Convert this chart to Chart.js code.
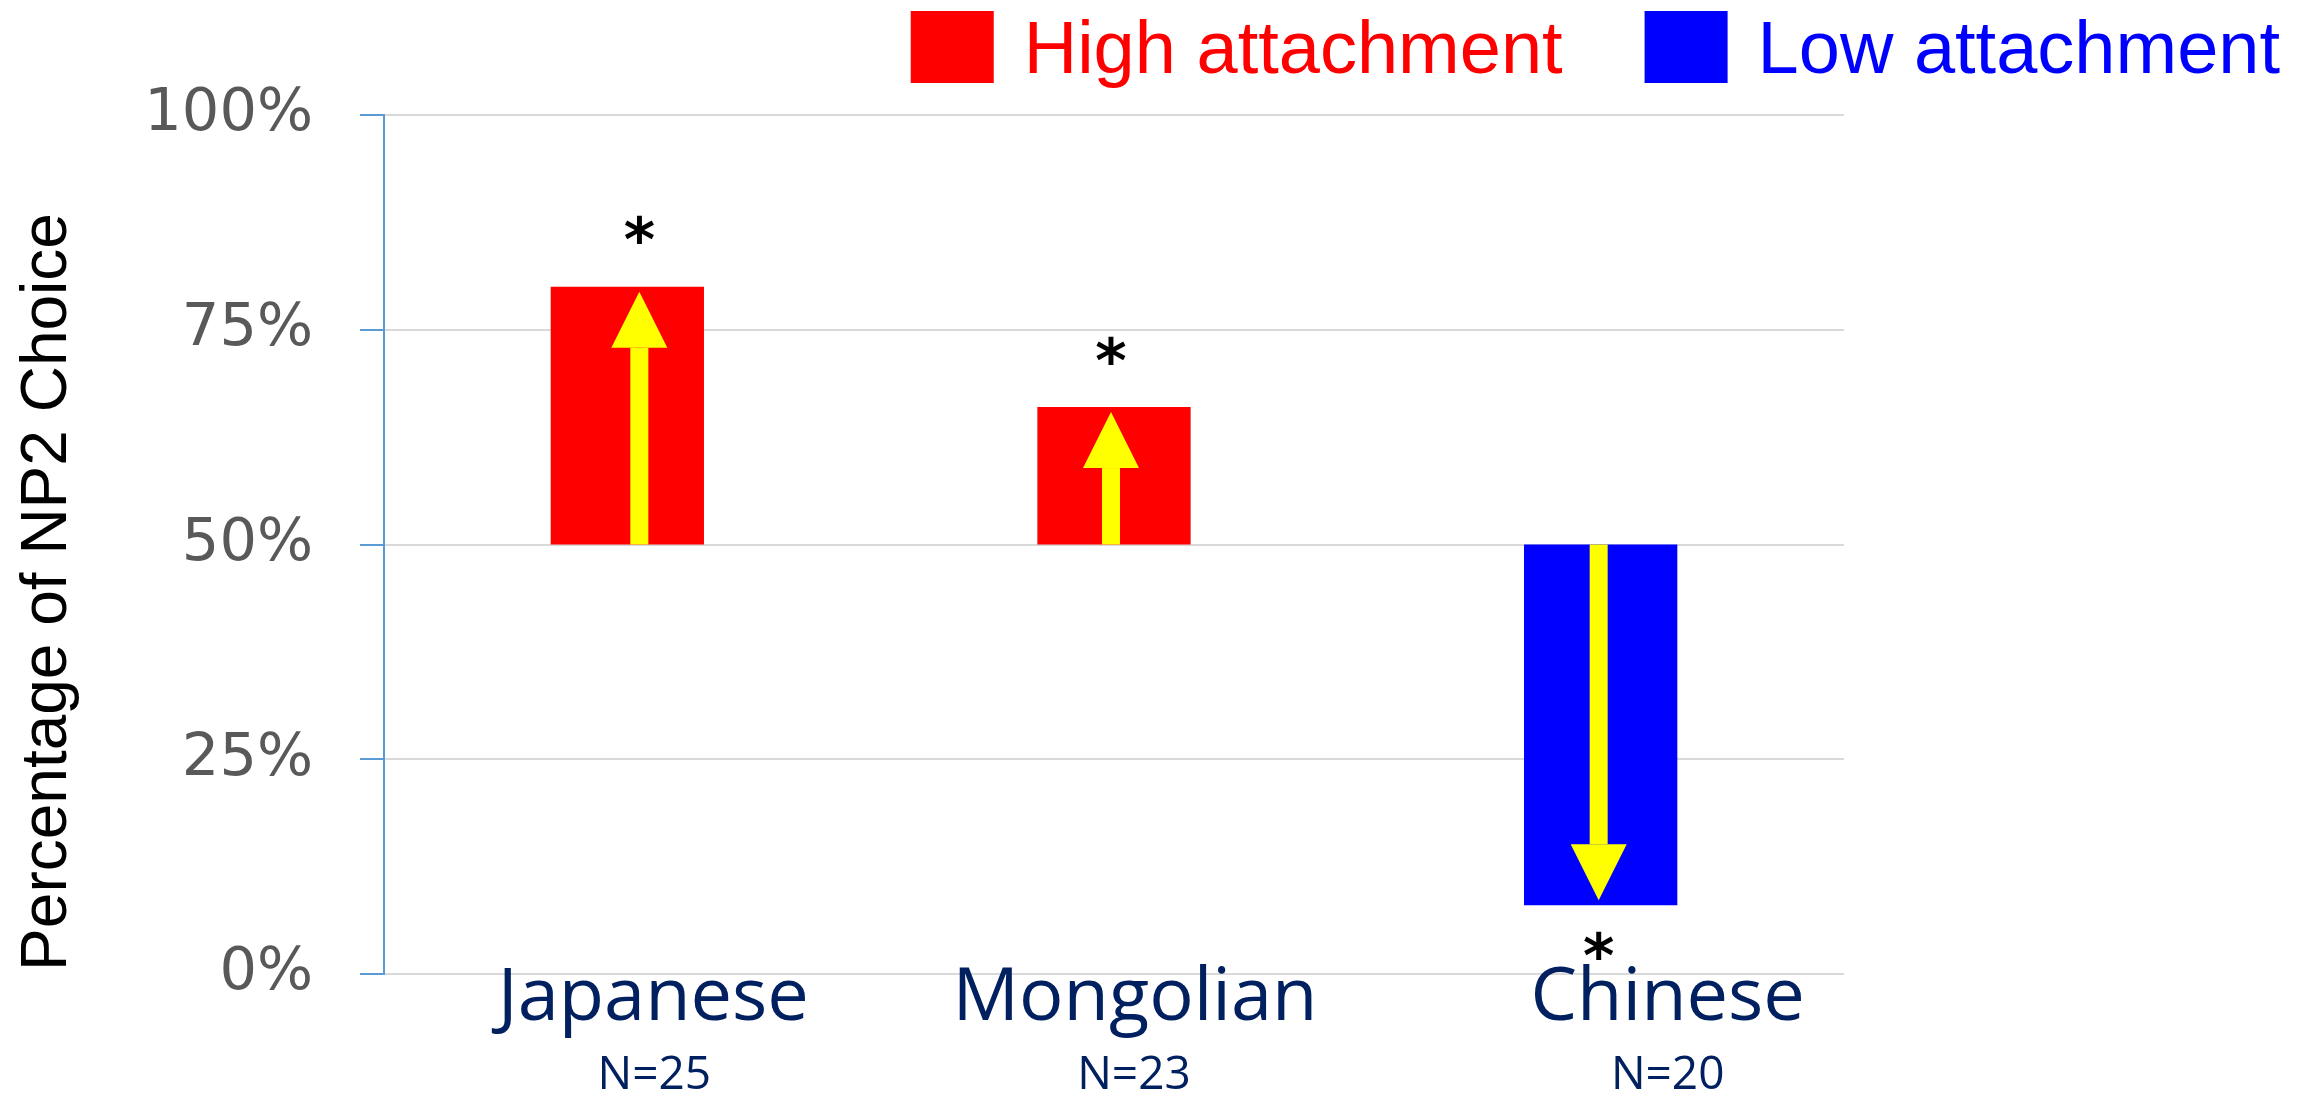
<!DOCTYPE html>
<html>
<head>
<meta charset="utf-8">
<title>Percentage of NP2 Choice</title>
<script src="https://cdn.jsdelivr.net/npm/chart.js@4/dist/chart.umd.min.js"></script>
<style>
  html, body { margin: 0; padding: 0; background: #ffffff; }
  #wrap { width: 2313px; height: 1096px; }
</style>
</head>
<body>
<div id="wrap"><canvas id="chart" width="2313" height="1096"></canvas></div>
<script>
// Language groups and their sample sizes
const categories = ['Japanese', 'Mongolian', 'Chinese'];
const sampleSizes = ['N=25', 'N=23', 'N=20'];

// Share of NP2 choices (%) — bars float from the 50% chance level
const chanceLevel = 50;
const highAttachment = [80, 66, null];
const lowAttachment = [null, null, 8];
const significant = [true, true, true];

const seriesNames = ['High attachment', 'Low attachment'];
const yTickValues = [0, 25, 50, 75, 100];
const yAxisTitle = 'Percentage of NP2 Choice';

const floating = vals => vals.map(v => (v == null ? null : [chanceLevel, v]));

const RED = '#ff0000';
const BLUE = '#0000ff';
const YELLOW = '#ffff00';
const NAVY = '#002060';

// Arrows, significance marks, category labels, title and legend
const decorations = {
  id: 'decorations',
  afterDatasetsDraw(chart) {
    const ctx = chart.ctx;
    const y = chart.scales.y;
    const arrowNudge = [12, -3, -2];
    ctx.save();
    chart.data.datasets.forEach((ds, di) => {
      const meta = chart.getDatasetMeta(di);
      ds.data.forEach((range, j) => {
        if (range == null) return;
        const bar = meta.data[j];
        const x = bar.x + arrowNudge[j];
        const y0 = y.getPixelForValue(range[0]);
        const y1 = y.getPixelForValue(range[1]);
        const dir = Math.sign(y1 - y0);
        const tip = y1 - dir * 5;
        const headLen = 56, headW = 56, shaftW = 18;
        const base = tip - dir * headLen;
        ctx.fillStyle = YELLOW;
        ctx.fillRect(x - shaftW / 2, Math.min(y0, base), shaftW, Math.abs(base - y0));
        ctx.beginPath();
        ctx.moveTo(x, tip);
        ctx.lineTo(x - headW / 2, base);
        ctx.lineTo(x + headW / 2, base);
        ctx.closePath();
        ctx.fill();

        if (significant[j]) {
          ctx.font = 'bold 60px "DejaVu Sans"';
          ctx.fillStyle = '#000000';
          ctx.textAlign = 'center';
          ctx.textBaseline = 'alphabetic';
          const m = ctx.measureText('*');
          const h = m.actualBoundingBoxAscent + m.actualBoundingBoxDescent;
          const cy = dir < 0 ? y1 - 57 : y1 + 40;
          ctx.fillText('*', x, cy + h / 2 - m.actualBoundingBoxDescent);
        }
      });
    });
    ctx.restore();
  },
  afterDraw(chart) {
    const ctx = chart.ctx;
    const x = chart.scales.x;
    ctx.save();

    // category names and sample sizes under each bar
    const nameNudge = [26, 21, 67];
    const nNudge = [27, 20, 67];
    ctx.fillStyle = NAVY;
    ctx.textAlign = 'center';
    ctx.textBaseline = 'alphabetic';
    categories.forEach((c, i) => {
      const cx = x.getPixelForValue(i);
      ctx.font = '74px "Open Sans"';
      ctx.fillText(c, cx + nameNudge[i], 1020);
      ctx.font = '46px "Open Sans"';
      ctx.fillText(sampleSizes[i], cx + nNudge[i], 1089);
    });

    // vertical axis title
    ctx.save();
    ctx.translate(66, 592);
    ctx.rotate(-Math.PI / 2);
    ctx.font = '64px "Liberation Sans"';
    ctx.fillStyle = '#000000';
    ctx.textAlign = 'center';
    ctx.fillText(yAxisTitle, 0, 0);
    ctx.restore();

    // legend, right-aligned at the top
    ctx.font = '74px "Liberation Sans"';
    ctx.textAlign = 'left';
    const boxW = 83, boxH = 72, gapText = 30, gapItem = 82;
    let right = 2280;
    const items = chart.data.datasets.map(ds => ({ text: ds.label, color: ds.backgroundColor }));
    for (let k = items.length - 1; k >= 0; k--) {
      const it = items[k];
      const tw = ctx.measureText(it.text).width;
      const tx = right - tw;
      const bx = tx - gapText - boxW;
      ctx.fillStyle = it.color;
      ctx.fillRect(bx, 11, boxW, boxH);
      ctx.fillText(it.text, tx, 73);
      right = bx - gapItem;
    }
    ctx.restore();
  }
};

new Chart(document.getElementById('chart'), {
  type: 'bar',
  data: {
    labels: categories,
    datasets: [
      { label: seriesNames[0], data: floating(highAttachment), backgroundColor: RED, grouped: false },
      { label: seriesNames[1], data: floating(lowAttachment), backgroundColor: BLUE, grouped: false }
    ]
  },
  options: {
    responsive: false,
    animation: false,
    events: [],
    layout: { padding: { left: 3, right: 469, top: 115, bottom: 122 } },
    datasets: { bar: { categoryPercentage: 1, barPercentage: 0.315 } },
    plugins: {
      legend: { display: false },
      tooltip: { enabled: false },
      title: { display: false }
    },
    scales: {
      x: { display: false },
      y: {
        min: 0,
        max: 100,
        afterBuildTicks: s => { s.ticks = yTickValues.map(v => ({ value: v })); },
        afterFit: s => { s.width = 381; },
        ticks: {
          callback: v => v + '%',
          color: '#595959',
          font: { family: '"DejaVu Sans"', size: 59 },
          padding: 47
        },
        grid: { color: '#d9d9d9', lineWidth: 2, tickColor: '#5b9bd5', tickLength: 24 },
        border: { color: '#5b9bd5', width: 2 }
      }
    }
  },
  plugins: [decorations]
});
</script>
</body>
</html>
